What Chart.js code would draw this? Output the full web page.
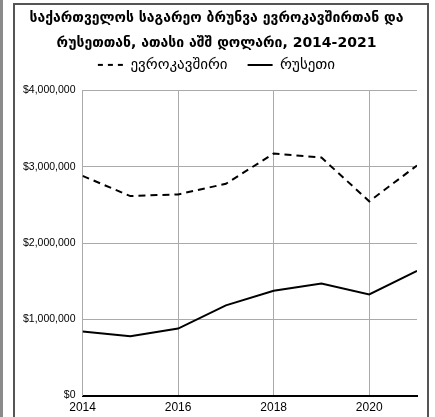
<!DOCTYPE html>
<html>
<head>
<meta charset="utf-8">
<script src="https://cdn.jsdelivr.net/npm/chart.js@4/dist/chart.umd.min.js"></script>
<style>
  html, body { margin: 0; padding: 0; background: #fff; }
  body { width: 435px; height: 417px; position: relative; overflow: hidden; }
  #strip { position: absolute; left: 0; top: 0; width: 3px; height: 417px; background: #8a8a8a; }
  #frame {
    position: absolute; left: 13px; top: 3px; width: 412px; height: 420px;
    border: 2px solid #555; border-bottom: none; background: #fff;
  }
  #chart-container { position: absolute; left: 0; top: 0; width: 412px; height: 417px; }
</style>
</head>
<body>
<div id="strip"></div>
<div id="frame">
  <div id="chart-container"><canvas id="chart"></canvas></div>
</div>
<script>
const years = [2014, 2015, 2016, 2017, 2018, 2019, 2020, 2021];
const euValues = [2880000, 2615000, 2637000, 2776000, 3172000, 3120000, 2546000, 3016000];
const ruValues = [839000, 778000, 879000, 1183000, 1375000, 1470000, 1327000, 1636000];
const seriesNames = ['ევროკავშირი', 'რუსეთი'];
const titleLines = ['საქართველოს საგარეო ბრუნვა ევროკავშირთან და', 'რუსეთთან, ათასი აშშ დოლარი, 2014-2021'];
const yearTicks = [2014, 2016, 2018, 2020];

const toPoints = values => values.map((v, i) => ({ x: years[i], y: v }));

// legend sits tight under the title, with some room below it
const legendGap = {
  id: 'legendGap',
  beforeInit(chart) {
    const fit = chart.legend.fit;
    chart.legend.fit = function () {
      fit.bind(chart.legend)();
      this.height += 8;
    };
  }
};

const chart = new Chart(document.getElementById('chart').getContext('2d'), {
  type: 'line',
  data: {
    datasets: [{
      label: seriesNames[0],
      data: toPoints(euValues),
      borderColor: '#000',
      backgroundColor: '#000',
      borderWidth: 2,
      borderDash: [7, 5],
      pointRadius: 0,
      pointStyle: 'line',
      tension: 0
    }, {
      label: seriesNames[1],
      data: toPoints(ruValues),
      borderColor: '#000',
      backgroundColor: '#000',
      borderWidth: 2,
      pointRadius: 0,
      pointStyle: 'line',
      tension: 0
    }]
  },
  options: {
    responsive: true,
    maintainAspectRatio: false,
    animation: false,
    layout: { padding: { left: 1, right: 10, top: 1, bottom: 2 } },
    plugins: {
      title: {
        display: true,
        text: titleLines,
        color: '#000',
        font: { family: 'DejaVu Sans', size: 14, weight: 'bold', lineHeight: 1.8 },
        padding: { top: 0, bottom: -19 }
      },
      legend: {
        labels: {
          color: '#000',
          font: { family: 'DejaVu Sans', size: 15 },
          usePointStyle: true,
          pointStyle: 'line',
          pointStyleWidth: 25,
          padding: 20,
          generateLabels: chart => Chart.defaults.plugins.legend.labels.generateLabels(chart).map(item => ({
            ...item,
            lineWidth: 2,
            lineDash: chart.data.datasets[item.datasetIndex].borderDash ? [5, 5] : []
          }))
        }
      },
      tooltip: { enabled: false }
    },
    scales: {
      x: {
        type: 'linear',
        min: 2014,
        max: 2021,
        border: { color: '#000', width: 2 },
        grid: { color: '#aaa', drawTicks: false },
        afterBuildTicks: axis => { axis.ticks = yearTicks.map(v => ({ value: v })); },
        ticks: {
          color: '#000',
          padding: 5,
          font: { family: 'Liberation Sans', size: 12 },
          callback: v => String(v)
        }
      },
      y: {
        min: 0,
        max: 4000000,
        border: { color: '#aaa' },
        grid: { color: '#aaa', drawTicks: false },
        ticks: {
          stepSize: 1000000,
          color: '#000',
          padding: 7,
          font: { family: 'Liberation Sans', size: 10.5 },
          callback: v => '$' + v.toLocaleString('en-US')
        }
      }
    }
  },
  plugins: [legendGap]
});
</script>
</body>
</html>
